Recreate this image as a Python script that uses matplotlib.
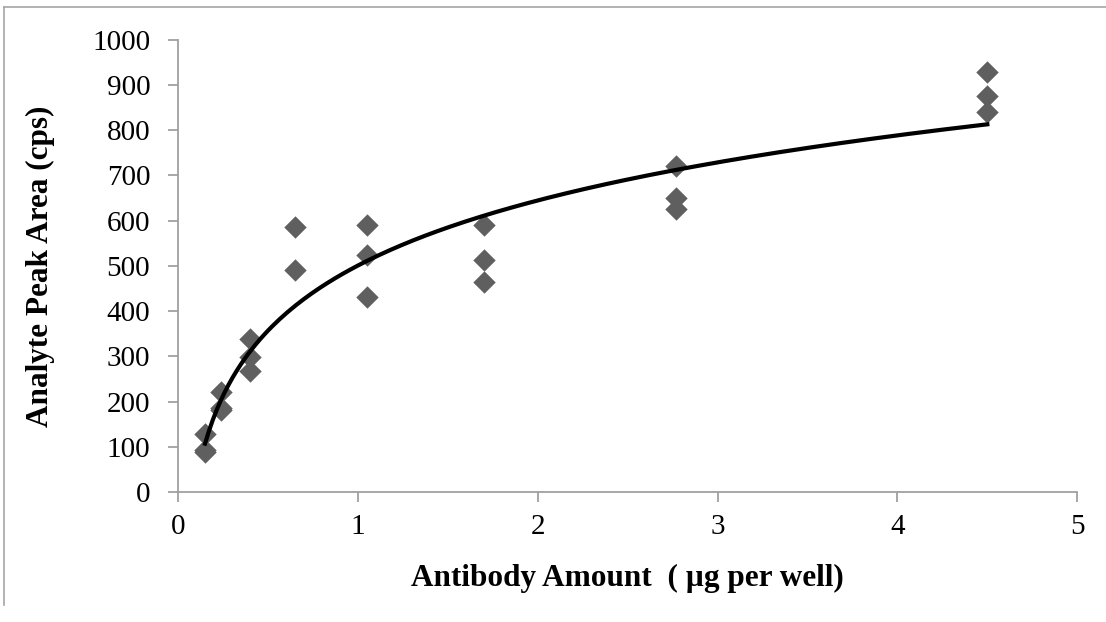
import numpy as np
import matplotlib.pyplot as plt
from matplotlib.lines import Line2D

plt.rcParams['font.family'] = ['Liberation Serif', 'DejaVu Serif']

# antibody amount (ug per well) and analyte peak area (cps), three replicates each
x_amount = [0.15, 0.15, 0.15, 0.24, 0.24, 0.24, 0.4, 0.4, 0.4,
            0.65, 0.65, 1.05, 1.05, 1.05, 1.7, 1.7, 1.7,
            2.77, 2.77, 2.77, 4.5, 4.5, 4.5]
y_area = [128, 93, 88, 221, 186, 181, 338, 298, 268,
          585, 490, 590, 525, 432, 590, 512, 465,
          722, 650, 625, 928, 876, 840]

x = np.array(x_amount)
y = np.array(y_area)

# logarithmic trendline fitted to the points
a, b = np.polyfit(np.log(x), y, 1)
xf = np.linspace(x.min(), x.max(), 200)
yf = a * np.log(xf) + b

fig = plt.figure(figsize=(11.06, 6.22), dpi=100)
ax = fig.add_axes([0.161, 0.209, 0.813, 0.727])

ax.scatter(x, y, marker='D', s=130, color='#5f5f5f', linewidths=0, zorder=3)
ax.plot(xf, yf, color='black', lw=3, zorder=4)

ax.set_xlim(0, 5)
ax.set_ylim(0, 1000)
ax.set_xticks(range(0, 6))
ax.set_yticks(range(0, 1001, 100))

for s in ['top', 'right']:
    ax.spines[s].set_visible(False)
for s in ['left', 'bottom']:
    ax.spines[s].set_color('#a0a0a0')
    ax.spines[s].set_linewidth(1.3)
ax.tick_params(colors='#a0a0a0', labelcolor='black', labelsize=21, length=7, width=1.3)
ax.tick_params(axis='y', pad=13)
ax.tick_params(axis='x', pad=9)

ax.set_xlabel('Antibody Amount  ( µg per well)', fontsize=22.5, fontweight='bold')
ax.set_ylabel('Analyte Peak Area (cps)', fontsize=22.5, fontweight='bold')
ax.xaxis.set_label_coords(0.5, -0.16)
ax.yaxis.set_label_coords(-0.137, 0.5)

# partial chart-area border
fig.add_artist(Line2D([0.004, 1.0], [0.989, 0.989], color='#a6a6a6', lw=1.2))
fig.add_artist(Line2D([0.004, 0.004], [0.989, 0.027], color='#a6a6a6', lw=1.2))

fig.savefig('out.png', dpi=100)
